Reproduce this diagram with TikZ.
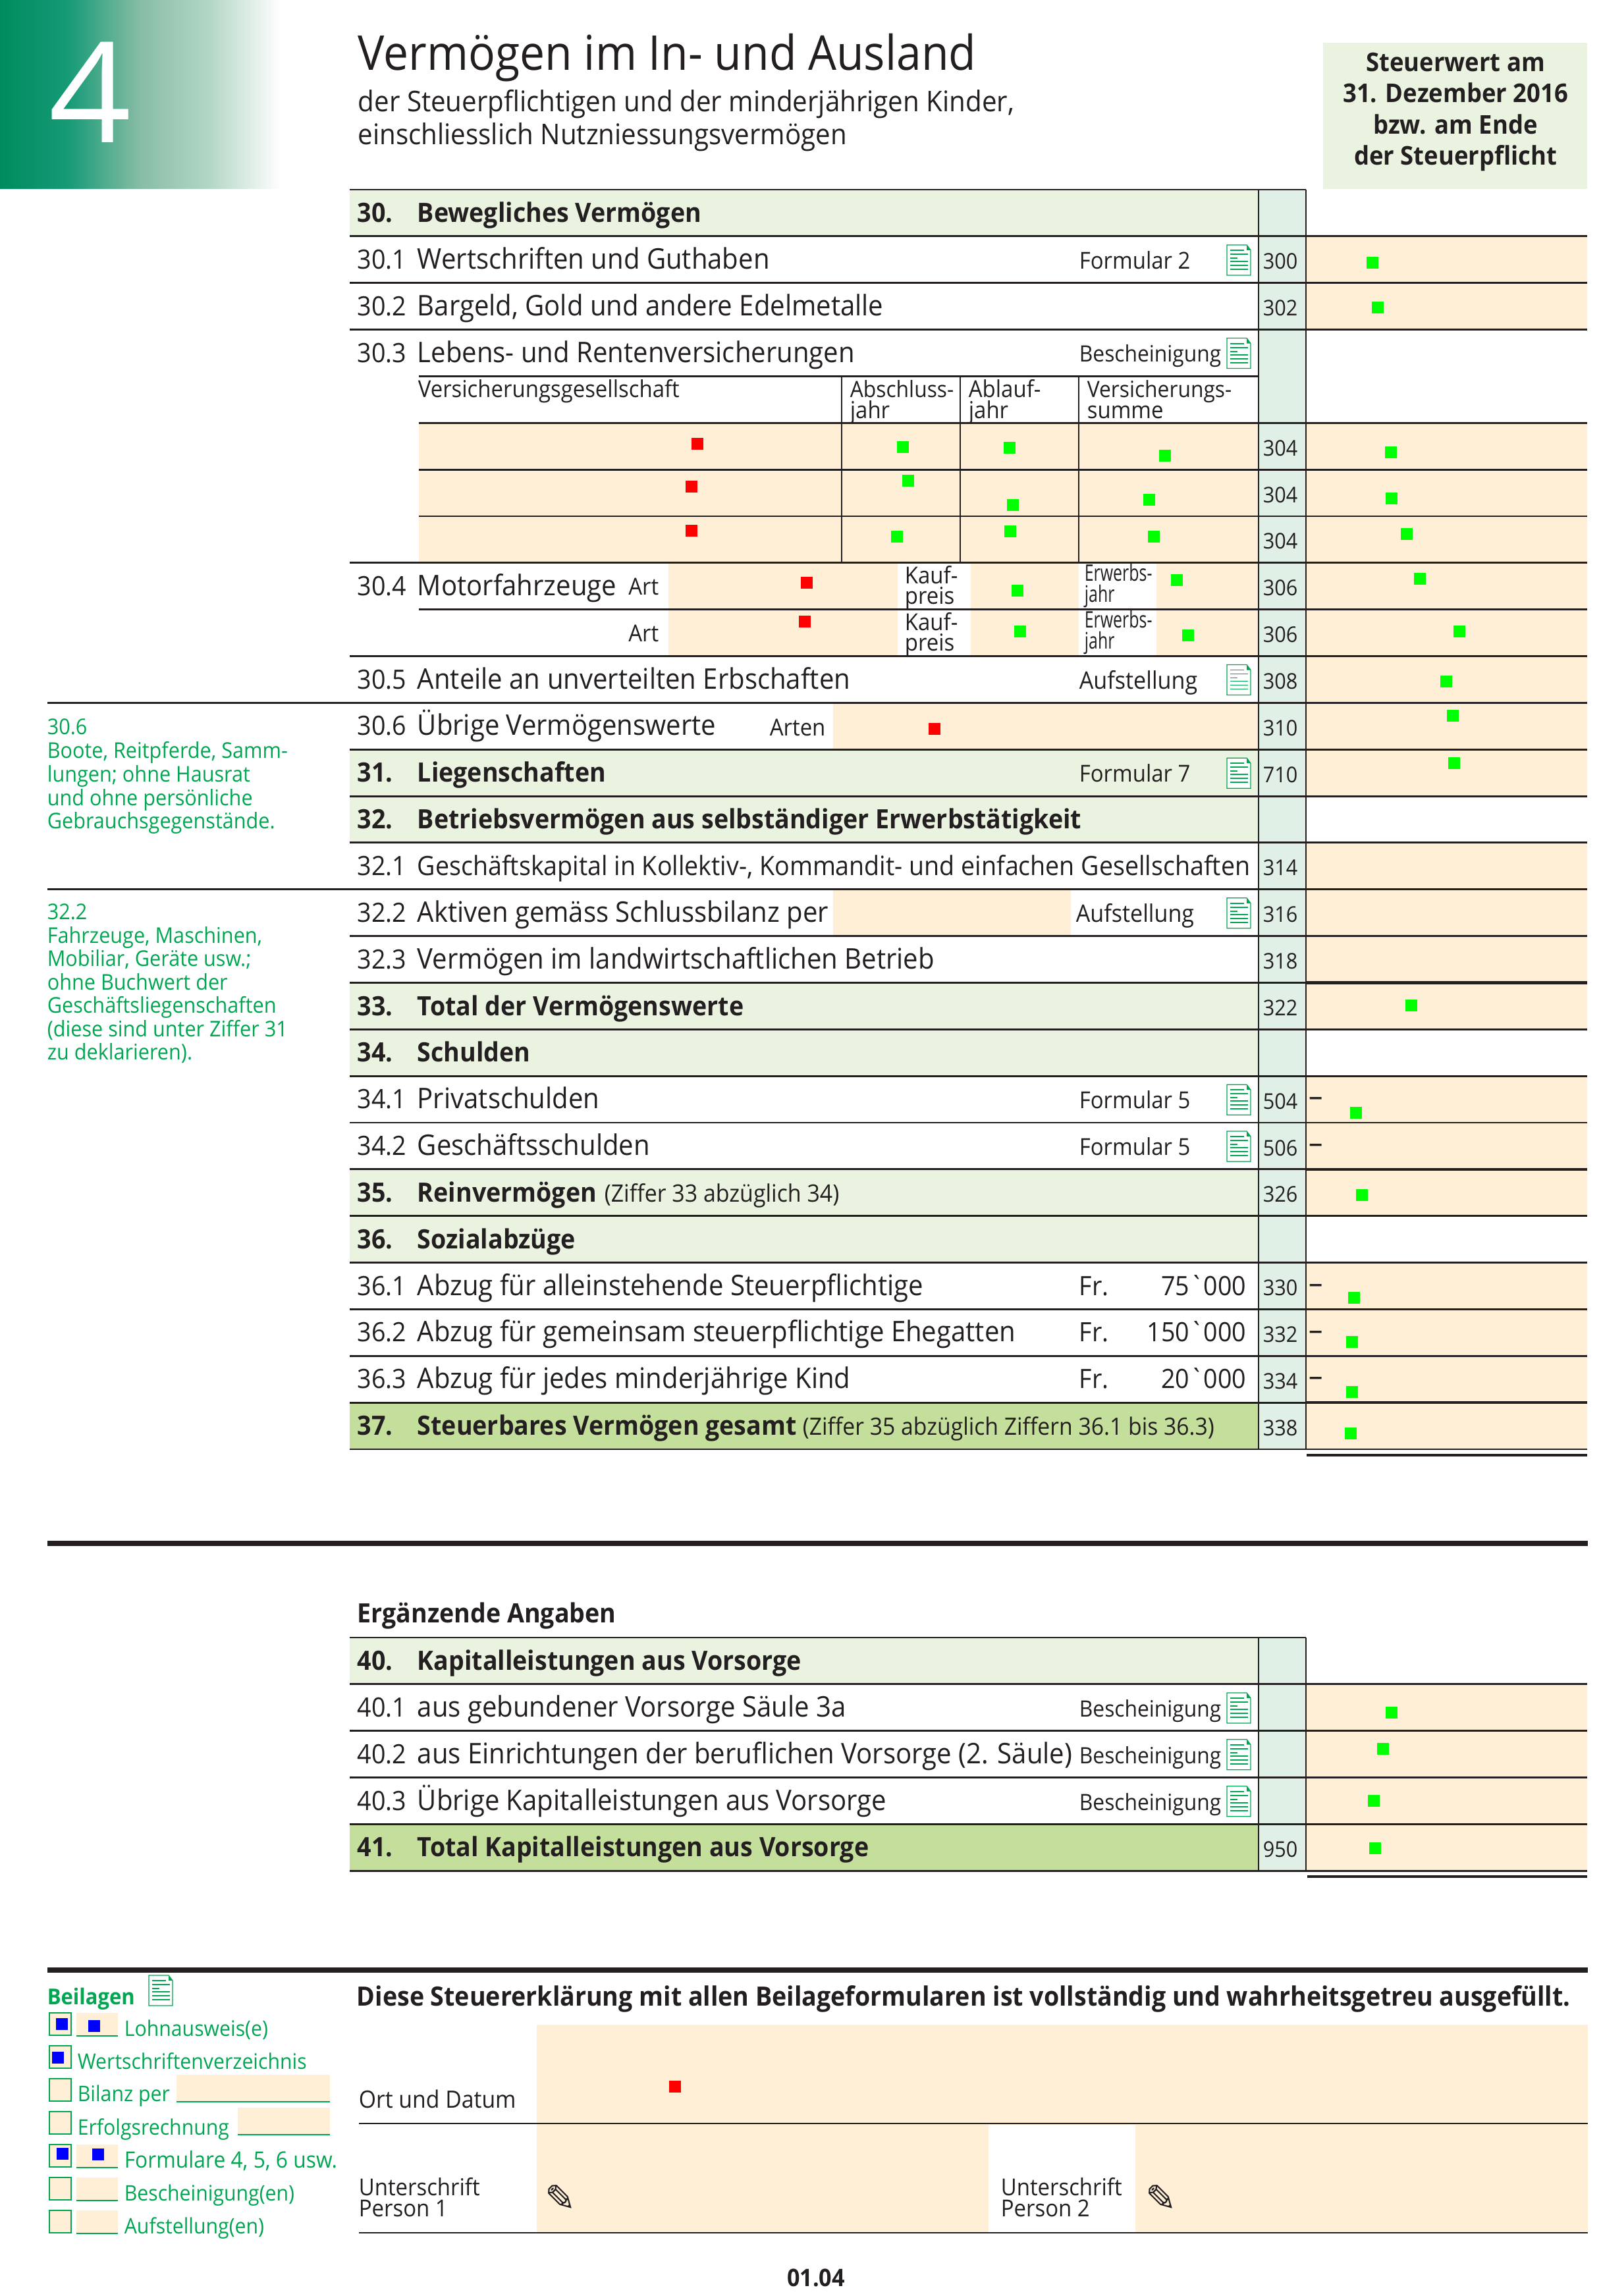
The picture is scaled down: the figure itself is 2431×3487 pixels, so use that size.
\documentclass[tikz,border=0pt]{standalone}
\usepackage{fontspec}
\setmainfont{Open Sans}[FakeStretch=.93]
\newfontfamily\narrowfont{Open Sans}[FakeStretch=.72]
\newfontfamily\widefont{Open Sans}[FakeStretch=1.03]
\newfontfamily\rawfont{Open Sans}[FakeStretch=.93,Ligatures=ResetAll]
\newfontfamily\wingfont{DejaVu Sans}
\definecolor{ink}{HTML}{231F20}
\definecolor{cream}{HTML}{FEEFD6}
\definecolor{pale}{HTML}{EAF3DF}
\definecolor{codecol}{HTML}{E1F0E6}
\definecolor{total}{HTML}{C4DF9B}
\definecolor{leaf}{HTML}{00A651}
\definecolor{headgreen}{HTML}{008C5E}
\definecolor{headb}{HTML}{159A76}
\definecolor{headc}{HTML}{88BDA5}
\definecolor{headd}{HTML}{B2D6C6}
\pgfdeclarehorizontalshading{headfade}{100bp}{color(0bp)=(headgreen); color(25bp)=(headgreen); color(37bp)=(headb); color(50bp)=(headc); color(62bp)=(headd); color(75bp)=(white); color(100bp)=(white)}
\tikzset{
	lab/.style={anchor=base west,inner sep=0pt,text=ink,font=\fontsize{9.7}{11}\selectfont},
	rowlab/.style={lab,font=\fontsize{10.35}{12}\selectfont},
	boldlab/.style={lab,font=\fontsize{9.7}{11}\selectfont\bfseries},
	small/.style={lab,font=\fontsize{8.5}{10}\selectfont},
	codenum/.style={lab,font=\fontsize{7.9}{10}\selectfont},
	note/.style={lab,text=leaf,font=\fontsize{7.9}{10}\selectfont},
	rule/.style={ink,line width=.7pt},
	gmark/.style={fill=green,inner sep=0pt,minimum size=4.3pt},
	rmark/.style={fill=red,inner sep=0pt,minimum size=4.3pt},
	bmark/.style={fill=blue,inner sep=0pt,minimum size=4.3pt},
	docicon/.pic={
		\draw[leaf,line width=.3pt,fill=white] (0,0) -- (30,0) -- (36,8) -- (36,46) -- (0,46) -- cycle;
		\fill[leaf] (30,0) -- (36,8) -- (30,8) -- cycle;
		\foreach \ya/\xb in {8/26,14/32,20/16,25/32,31/32,37/32}
			\draw[leaf,line width=.45pt] (5,\ya) -- (\xb,\ya);
	}
}
\begin{document}
\begin{tikzpicture}[x=.24pt,y=-.24pt]
	\useasboundingbox (0,0) rectangle (2431,3487);

	% Head
	\fill[shading=headfade] (0,0) rectangle (427,287);
	\fill[pale] (2009,65) rectangle (2410,287);
	\node[lab,text=white,font=\fontsize{51}{52}\widefont] (chapter) at (74,217) {4};
	\node[lab,font=\fontsize{17.5}{19}\selectfont] (title) at (543,107) {Vermögen im In- und Ausland};
	\node[lab,font=\fontsize{10.4}{12}\selectfont] (subone) at (543,170) {der Steuerpflichtigen und der minderjährigen Kinder,};
	\node[lab,font=\fontsize{10.4}{12}\selectfont] (subtwo) at (543,220) {einschliesslich Nutzniessungsvermögen};
	\foreach \y/\s [count=\i] in {109/Steuerwert am,156/31. Dezember 2016,204/bzw. am Ende,251/der Steuerpflicht}
		\node[boldlab,anchor=base,font=\fontsize{9.4}{11}\selectfont\bfseries] (tax\i) at (2210,\y) {\s};

	% Fields
	\fill[codecol] (1911,288) rectangle (1983,2201);
	\foreach \y in {288,1138.2,1209.1,1492.5,1563.3,1775.9,1846.7}
		\fill[pale] (531,\y) rectangle (1911,\y+70.85);
	\fill[total] (531,2130.1) rectangle (1911,2201);
	\foreach \y in {358.9,429.7,642.3,713.1,784,854.8,925.7,996.5,1067.4,1138.2,1279.9,1350.8,1421.6,1492.5,1634.2,1705,1775.9,1917.6,1988.4,2059.3,2130.1}
		\fill[cream] (1983,\y) rectangle (2410,\y+70.85);
	\fill[cream] (636,642.3) rectangle (1911,854.8);
	\fill[cream] (1015,854.8) rectangle (1911,996.5);
	\fill[white] (1363,854.8) rectangle (1474,996.5);
	\fill[white] (1638,854.8) rectangle (1756,996.5);
	\fill[cream] (1265,1067.4) rectangle (1911,1138.2);
	\fill[cream] (1265,1350.8) rectangle (1626,1421.6);

	% Rules
	\foreach \y in {358.9,429.7,500.6,854.8,996.5,1138.2,1209.1,1279.9,1421.6,1492.5,1563.3,1634.2,1705,1775.9,1846.7,1917.6,1988.4,2059.3,2130.1,2201}
		\draw[rule] (531,\y) -- (2410,\y);
	\draw[rule] (531,288) -- (1983,288);
	\foreach \y in {642.3,713.1,784,925.7}
		\draw[rule] (636,\y) -- (2410,\y);
	\draw[rule] (636,571.4) -- (1911,571.4);
	\foreach \y in {1067.4,1350.8}
		\draw[rule] (72,\y) -- (2410,\y);
	\foreach \x in {1911,1983}
		\draw[rule,line width=.5pt] (\x,288) -- (\x,2201);
	\foreach \x in {1278,1458,1638}
		\draw[rule,line width=.5pt] (\x,571.4) -- (\x,854.8);
	\foreach \y in {1492.5,1775.9,2130.1}
		\draw[rule,line width=1.1pt] (1984,\y) -- (2410,\y);
	\draw[rule,line width=1pt] (1984,2210) -- (2410,2210);

	% Labels
	\foreach \k/\y/\num/\txt in {
		1/358.9/30.1/{Wertschriften und Guthaben},
		2/429.7/30.2/{Bargeld, Gold und andere Edelmetalle},
		3/500.6/30.3/{Lebens- und Rentenversicherungen},
		8/854.8/30.4/{Motorfahrzeuge},
		10/996.5/30.5/{Anteile an unverteilten Erbschaften},
		11/1067.4/30.6/{Übrige Vermögenswerte},
		15/1350.8/32.2/{Aktiven gemäss Schlussbilanz per},
		16/1421.6/32.3/{Vermögen im landwirtschaftlichen Betrieb},
		19/1634.2/34.1/{Privatschulden},
		20/1705/34.2/{Geschäftsschulden},
		23/1917.6/36.1/{Abzug für alleinstehende Steuerpflichtige},
		24/1988.4/36.2/{Abzug für gemeinsam steuerpflichtige Ehegatten},
		25/2059.3/36.3/{Abzug für jedes minderjährige Kind}}{
		\node[lab] (num\k) at (542,\y+49.5) {\num};
		\node[rowlab] (row\k) at (633,\y+49.5) {\txt};
	}
	\node[lab] (num14) at (542,1329.4) {32.1};
	\node[lab] (row14) at (633,1329.4) {Geschäftskapital in Kollektiv-, Kommandit- und einfachen Gesellschaften};
	\foreach \k/\y/\num/\txt in {
		0/288/30./{Bewegliches Vermögen},
		12/1138.2/31./{Liegenschaften},
		13/1209.1/32./{Betriebsvermögen aus selbständiger Erwerbstätigkeit},
		17/1492.5/33./{Total der Vermögenswerte},
		18/1563.3/34./{Schulden},
		21/1775.9/35./{Reinvermögen},
		22/1846.7/36./{Sozialabzüge},
		26/2130.1/37./{Steuerbares Vermögen gesamt}}{
		\node[boldlab] (num\k) at (542,\y+49.5) {\num};
		\node[boldlab] (row\k) at (633,\y+49.5) {\txt};
	}
	\node[small,font=\fontsize{8.75}{10}\selectfont] (sum35) at (917,1825) {(Ziffer 33 abzüglich 34)};
	\node[small,font=\fontsize{8.7}{10}\selectfont] (sum37) at (1218,2179) {(Ziffer 35 abzüglich Ziffern 36.1 bis 36.3)};

	% Insurance heads
	\node[small] (headco) at (634,604) {Versicherungsgesellschaft};
	\node[small,font=\fontsize{8.2}{10}\selectfont] (heada) at (1290,604) {Abschluss-};
	\node[small] (headb) at (1290,636) {jahr};
	\node[small] (headc) at (1470,604) {Ablauf-};
	\node[small] (headd) at (1470,636) {jahr};
	\node[small,font=\fontsize{8.2}{10}\selectfont] (heade) at (1650,604) {Versicherungs-};
	\node[small] (headf) at (1650,636) {summe};
	\foreach \y [count=\i] in {854.8,925.7}{
		\node[small,anchor=base east] (art\i) at (1001,\y+49) {Art};
		\node[small] (kaufa\i) at (1373,\y+32) {Kauf-};
		\node[small] (kaufb\i) at (1373,\y+63) {preis};
		\node[small,font=\fontsize{8.3}{10}\narrowfont] (erwa\i) at (1646,\y+28) {Erwerbs-};
		\node[small,font=\fontsize{8.3}{10}\narrowfont] (erwb\i) at (1646,\y+60) {jahr};
	}
	\node[small] (arten) at (1168,1117) {Arten};

	% Form hints
	\foreach \y/\s [count=\i] in {358.9/Formular 2,1138.2/Formular 7,1634.2/Formular 5,1705/Formular 5}
		\node[small] (hint\i) at (1638,\y+49.5) {\s};
	\node[small,font=\fontsize{8.2}{10}\selectfont] (hintc) at (1638,550) {Bescheinigung};
	\node[small,font=\fontsize{8.8}{10}\selectfont] (hinta) at (1638,1046) {Aufstellung};
	\node[small,font=\fontsize{8.8}{10}\selectfont] (hintb) at (1633,1400) {Aufstellung};
	\foreach \y in {358.9,500.6,996.5,1138.2,1350.8,1634.2,1705,2557.9,2628.7,2699.6}
		\pic at (1863,\y+13) {docicon};
	\foreach \y/\s [count=\i] in {1917.6/75,1988.4/150,2059.3/20}{
		\node[lab] (fr\i) at (1638,\y+49.5) {Fr.};
		\node[lab,anchor=base east] (amount\i) at (1893,\y+49.5) {\s{\rawfont\symbol{96}}000};
	}

	% Codes
	\foreach \y/\c [count=\i] in {358.9/300,429.7/302,642.3/304,713.1/304,784/304,854.8/306,925.7/306,996.5/308,1067.4/310,1138.2/710,1279.9/314,1350.8/316,1421.6/318,1492.5/322,1634.2/504,1705/506,1775.9/326,1917.6/330,1988.4/332,2059.3/334,2130.1/338}
		\node[codenum] (code\i) at (1917,\y+50) {\c};
	\foreach \y [count=\i] in {1667,1738,1951.5,2022,2092}
		\node[lab,font=\fontsize{11}{11}\selectfont] (minus\i) at (1987,\y+13) {–};

	% Side notes
	\foreach \y/\s [count=\i] in {1115.5/30.6,1151/{Boote, Reitpferde, Samm-},1187/{lungen; ohne Hausrat},1223/und ohne persönliche,1258/Gebrauchsgegenstände.}
		\node[note] (notea\i) at (71,\y) {\s};
	\foreach \y/\s [count=\i] in {1396/32.2,1432/{Fahrzeuge, Maschinen,},1467.5/{Mobiliar, Geräte usw.;},1503/ohne Buchwert der,1538.5/Geschäftsliegenschaften,1574/(diese sind unter Ziffer 31,1609/zu deklarieren).}
		\node[note] (noteb\i) at (71,\y) {\s};

	% Second table
	\draw[rule,line width=1.7pt] (72,2344) -- (2411,2344);
	\node[boldlab] (extra) at (542,2464) {Ergänzende Angaben};
	\fill[codecol] (1911,2487) rectangle (1983,2841.3);
	\fill[pale] (531,2487) rectangle (1911,2557.9);
	\fill[total] (531,2770.4) rectangle (1911,2841.3);
	\fill[cream] (1983,2557.9) rectangle (2410,2841.3);
	\draw[rule] (531,2487) -- (1983,2487);
	\foreach \y in {2557.9,2628.7,2699.6,2770.4,2841.3}
		\draw[rule] (531,\y) -- (2410,\y);
	\foreach \x in {1911,1983}
		\draw[rule,line width=.5pt] (\x,2487) -- (\x,2841.3);
	\draw[rule,line width=1pt] (1985,2850) -- (2410,2850);
	\foreach \k/\y/\num/\txt in {
		1/2557.9/40.1/{aus gebundener Vorsorge Säule 3a},
		2/2628.7/40.2/{aus Einrichtungen der beruflichen Vorsorge (2. Säule)},
		3/2699.6/40.3/{Übrige Kapitalleistungen aus Vorsorge}}{
		\node[lab] (numb\k) at (542,\y+49.5) {\num};
		\node[rowlab] (rowb\k) at (633,\y+49.5) {\txt};
		\node[small,font=\fontsize{8.2}{10}\selectfont] (hintc\k) at (1638,\y+49.5) {Bescheinigung};
	}
	\node[boldlab] (numb0) at (542,2536) {40.};
	\node[boldlab] (rowb0) at (633,2536) {Kapitalleistungen aus Vorsorge};
	\node[boldlab] (numb4) at (542,2819) {41.};
	\node[boldlab] (rowb4) at (633,2819) {Total Kapitalleistungen aus Vorsorge};
	\node[codenum] (codeb) at (1917,2820) {950};

	% Signature
	\draw[rule,line width=2pt] (72,2992) -- (2411,2992);
	\node[boldlab,text=leaf,font=\fontsize{8}{10}\selectfont\bfseries] (enclosed) at (71,3044) {Beilagen};
	\pic at (226,3000) {docicon};
	\node[boldlab,font=\fontsize{9.7}{11}\selectfont\bfseries] (sign) at (541,3046) {Diese Steuererklärung mit allen Beilageformularen ist vollständig und wahrheitsgetreu ausgefüllt.};
	\fill[cream] (815,3075) rectangle (2411,3391);
	\fill[white] (1501,3227) rectangle (1724,3391);
	\draw[rule] (545,3225) -- (2411,3225);
	\draw[rule] (545,3391) -- (2411,3391);
	\node[small,font=\fontsize{8.7}{10}\selectfont] (place) at (544,3201) {Ort und Datum};
	\node[small] (signa) at (544,3334) {Unterschrift};
	\node[small] (signb) at (544,3366) {Person 1};
	\node[small] (signc) at (1519,3334) {Unterschrift};
	\node[small] (signd) at (1519,3366) {Person 2};
	\node[inner sep=0pt,text=ink,font=\fontsize{13.5}{14}\wingfont] (pena) at (851,3338) {✎};
	\node[inner sep=0pt,text=ink,font=\fontsize{13.5}{14}\wingfont] (penb) at (1763,3338) {✎};
	\node[boldlab,anchor=base,font=\fontsize{8.8}{10}\selectfont\bfseries] (pageno) at (1239,3472) {01.04};

	% Enclosures
	\foreach \y in {3057,3107,3157,3207,3257,3307,3357}
		\draw[leaf,line width=.6pt,fill=cream] (75,\y) rectangle ++(33,34);
	\foreach \y in {3057,3257,3307,3357}{
		\fill[cream] (116,\y) rectangle ++(63,35);
		\draw[leaf,line width=.6pt] (116,\y+35) -- ++(63,0);
	}
	\fill[cream] (268,3151) rectangle (501,3192);
	\draw[leaf,line width=.6pt] (268,3192) -- (501,3192);
	\fill[cream] (361,3201) rectangle (501,3242);
	\draw[leaf,line width=.6pt] (361,3242) -- (501,3242);
	\foreach \x/\y/\s [count=\i] in {188/3092/Lohnausweis(e),117/3142/Wertschriftenverzeichnis,117/3191/Bilanz per,117/3242/Erfolgsrechnung,188/3342/Bescheinigung(en),188/3392/Aufstellung(en)}
		\node[note,font=\fontsize{7.8}{10}\selectfont] (encl\i) at (\x,\y) {\s};
	\node[note,font=\fontsize{8.2}{10}\selectfont] (enclf) at (188,3292) {Formulare 4, 5, 6 usw.};

	% Marks
	\foreach \x/\y [count=\i] in {2084/399,2092/467,1371/679,1533/680,1769/692,2112/687,1379/730,1538/767,1745/759,2113/757,1362/815,1534/807,1752/815,2136/811,1545/897,1787/881,2156/879,1549/959,1804/965,2216/959,2196/1035,2206/1087,2208/1159,2143/1527,2059/1690,2068/1815,2056/1971,2053/2038,2053/2114,2051/2177,2113/2601,2100/2656,2086/2735,2088/2807}
		\node[gmark] (g\i) at (\x,\y) {};
	\foreach \x/\y [count=\i] in {1059/674,1050/739,1050/806,1225/885,1222/944,1419/1107,1025/3169}
		\node[rmark] (r\i) at (\x,\y) {};
	\foreach \x/\y [count=\i] in {94/3074,143/3077,88/3125,95/3271,149/3272}
		\node[bmark] (b\i) at (\x,\y) {};
\end{tikzpicture}
\end{document}
